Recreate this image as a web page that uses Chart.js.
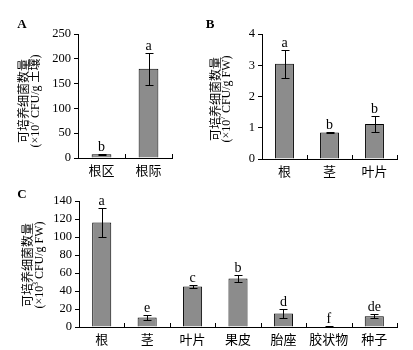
<!DOCTYPE html>
<html>
<head>
<meta charset="utf-8">
<script src="https://cdn.jsdelivr.net/npm/chart.js@4/dist/chart.umd.min.js"></script>
<style>
  body { margin: 0; background: #fff; }
  #wrap { position: relative; width: 413px; height: 350px; }
  canvas { position: absolute; }
</style>
</head>
<body>
<div id="wrap">
  <canvas id="chartA" style="left:0;top:0" width="200" height="185"></canvas>
  <canvas id="chartB" style="left:200px;top:0" width="213" height="185"></canvas>
  <canvas id="chartC" style="left:0;top:185px" width="413" height="165"></canvas>
</div>
<script>
// panel A - soil
const catA = ["根区", "根际"];
const valA = [7.5, 180];
const errA = [1.5, 32];
const sigA = ["b", "a"];
const ticksA = [0, 50, 100, 150, 200, 250];

// panel B - plant parts
const catB = ["根", "茎", "叶片"];
const valB = [3.05, 0.85, 1.12];
const errB = [0.45, 0.03, 0.27];
const sigB = ["a", "b", "b"];
const ticksB = [0, 0.5, 1, 1.5, 2, 2.5, 3, 3.5, 4];

// panel C - plant tissues
const catC = ["根", "茎", "叶片", "果皮", "胎座", "胶状物", "种子"];
const valC = [116, 10.5, 45, 54, 15, 0.5, 12];
const errC = [16, 3, 1.5, 4, 5.5, 0.3, 2.5];
const sigC = ["a", "e", "c", "b", "d", "f", "de"];
const ticksC = [0, 20, 40, 60, 80, 100, 120, 140];

const SERIF = "'Liberation Serif', 'Noto Sans CJK SC', serif";
const CJK = "'Noto Sans CJK SC', sans-serif";

// error bars, significance letters, inward x ticks
const errorBars = {
  id: "errorBars",
  afterDatasetsDraw(chart, args, opts) {
    const ctx = chart.ctx;
    const x = chart.scales.x, y = chart.scales.y;
    const meta = chart.getDatasetMeta(0);
    const data = chart.data.datasets[0].data;
    ctx.save();
    ctx.strokeStyle = "#000";
    ctx.fillStyle = "#000";
    ctx.lineWidth = 1;
    meta.data.forEach((bar, i) => {
      const px = Math.round(bar.x) + 0.5;
      const e = opts.errors[i];
      const top = Math.round(y.getPixelForValue(data[i] + e)) + 0.5;
      const bot = Math.round(y.getPixelForValue(Math.max(data[i] - e, 0))) + 0.5;
      ctx.beginPath();
      ctx.moveTo(px, top); ctx.lineTo(px, bot);
      ctx.moveTo(px - 4, top); ctx.lineTo(px + 4, top);
      ctx.moveTo(px - 4, bot); ctx.lineTo(px + 4, bot);
      ctx.stroke();
      ctx.font = "14px " + SERIF;
      ctx.textAlign = "center";
      ctx.textBaseline = "alphabetic";
      ctx.fillText(opts.letters[i], bar.x, top - 4);
    });
    // small ticks between categories, pointing up
    const n = data.length;
    const w = (x.right - x.left) / n;
    ctx.beginPath();
    for (let i = 1; i <= n; i++) {
      const tx = Math.round(x.left + w * i) + 0.5;
      ctx.moveTo(tx, x.top); ctx.lineTo(tx, x.top - 4);
    }
    ctx.stroke();
    ctx.restore();
  }
};

// panel letter and two-line rotated y title
const panelText = {
  id: "panelText",
  afterDraw(chart, args, opts) {
    const ctx = chart.ctx;
    ctx.save();
    ctx.fillStyle = "#000";
    ctx.font = "bold 13px " + SERIF;
    ctx.textAlign = "center";
    ctx.textBaseline = "middle";
    ctx.fillText(opts.letter, opts.letterX, opts.letterY);

    ctx.translate(0, opts.titleY);
    ctx.rotate(-Math.PI / 2);
    ctx.font = "12px " + CJK;
    ctx.fillText("可培养细菌数量", 0, opts.line1X);
    // second line with superscript exponent
    const big = "12px " + SERIF, small = "7.5px " + SERIF;
    const parts = [["(×10", big, 0], [opts.exp, small, -4], [" CFU/g " + opts.unit + ")", big, 0]];
    let total = 0;
    parts.forEach(p => { ctx.font = p[1]; total += ctx.measureText(p[0]).width; });
    let cx = -total / 2;
    ctx.textAlign = "left";
    parts.forEach(p => {
      ctx.font = p[1];
      ctx.fillText(p[0], cx, opts.line2X + p[2]);
      cx += ctx.measureText(p[0]).width;
    });
    ctx.restore();
  }
};

function makeChart(id, cats, vals, errs, sigs, ticks, yWidth, xHeight, pad, text) {
  return new Chart(document.getElementById(id), {
    type: "bar",
    data: {
      labels: cats,
      datasets: [{
        data: vals,
        backgroundColor: "#8c8c8c",
        borderColor: "#000",
        borderWidth: 1,
        barPercentage: 0.42,
        categoryPercentage: 1
      }]
    },
    options: {
      responsive: false,
      animation: false,
      layout: { padding: pad },
      plugins: {
        legend: { display: false },
        tooltip: { enabled: false },
        errorBars: { errors: errs, letters: sigs },
        panelText: text
      },
      scales: {
        x: {
          grid: { display: false, drawTicks: false },
          border: { color: "#000", width: 1 },
          ticks: { color: "#000", padding: 4, font: { family: CJK, size: 13 } },
          afterFit(s) { s.height = xHeight; }
        },
        y: {
          min: ticks[0],
          max: ticks[ticks.length - 1],
          grid: { drawOnChartArea: false, drawTicks: true, tickLength: 4, color: "#000" },
          border: { color: "#000", width: 1 },
          ticks: {
            color: "#000",
            padding: 3,
            font: { family: SERIF, size: 12.5 },
            callback: v => String(v)
          },
          afterBuildTicks(s) { s.ticks = ticks.map(v => ({ value: v })); },
          afterFit(s) { s.width = yWidth; }
        }
      }
    },
    plugins: [errorBars, panelText]
  });
}

makeChart("chartA", catA, valA, errA, sigA, ticksA, 78, 27,
  { top: 34, right: 28, bottom: 0, left: 0 },
  { letter: "A", letterX: 22, letterY: 25, titleY: 101, line1X: 23, line2X: 36, exp: "7", unit: "土壤" });

makeChart("chartB", catB, valB, errB, sigB, ticksB, 62, 26,
  { top: 34, right: 16, bottom: 0, left: 0 },
  { letter: "B", letterX: 10, letterY: 25, titleY: 99, line1X: 15, line2X: 27, exp: "7", unit: "FW" });

makeChart("chartC", catC, valC, errC, sigC, ticksC, 79, 23,
  { top: 16, right: 16, bottom: 0, left: 0 },
  { letter: "C", letterX: 22, letterY: 10, titleY: 80, line1X: 27, line2X: 40, exp: "3", unit: "FW" });
</script>
</body>
</html>
